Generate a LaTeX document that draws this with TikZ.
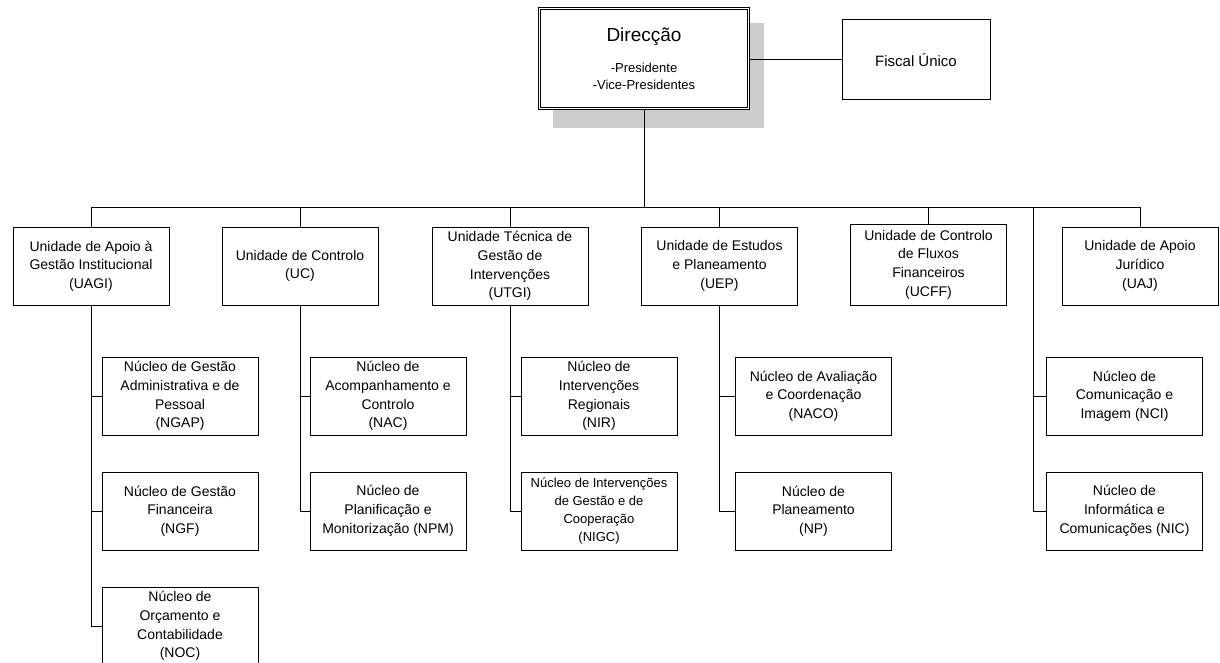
\documentclass[tikz,border=0pt]{standalone}
\usepackage{fontspec}
\setmainfont{Liberation Sans}
\begin{document}
\begin{tikzpicture}[x=1pt,y=-1pt,
  box/.style={draw,line width=1pt,align=center,inner sep=1pt,
    minimum width=156pt,minimum height=78pt,
    font=\fontsize{14}{18.7}\selectfont},
  conn/.style={line width=1pt}]
\useasboundingbox (0,0) rectangle (1220,663);
\clip (0,0) rectangle (1220,663);
\fill[white] (0,0) rectangle (1220,663);
% shadow of the top box
\fill[black!20] (553,23) rectangle (764,128);
\node[draw,double,double distance=1.6pt,line width=0.9pt,fill=white,
  minimum width=209pt,minimum height=100pt,align=center,inner sep=0pt,
  font=\fontsize{13}{17}\selectfont] (dir) at (644,58.5)
  {{\fontsize{19}{21}\selectfont Direcção}\\[14pt]-Presidente\\-Vice-Presidentes};
\node[draw,line width=1pt,minimum width=148pt,minimum height=80pt,
  font=\fontsize{15}{17}\selectfont] (fisc) at (916,60) {Fiscal Único};
\draw[conn] (dir.east |- fisc.west) -- (fisc.west);
% units
\node[box] (uagi) at (91,266) {Unidade de Apoio à\\Gestão Institucional\\(UAGI)};
\node[box] (uc) at (300,266) {Unidade de Controlo\\(UC)};
\node[box] (utgi) at (510,266) {Unidade Técnica de\\Gestão de\\Intervenções\\(UTGI)};
\node[box] (uep) at (719.5,266) {Unidade de Estudos\\e Planeamento\\(UEP)};
\node[box,minimum height=81pt] (ucff) at (928.5,264.5) {Unidade de Controlo\\de Fluxos\\Financeiros\\(UCFF)};
\node[box] (uaj) at (1140,266) {Unidade de Apoio\\Jurídico\\(UAJ)};
% sub units
\node[box] (ngap) at (180,396) {Núcleo de Gestão\\Administrativa e de\\Pessoal\\(NGAP)};
\node[box] (ngf) at (180,511) {Núcleo de Gestão\\Financeira\\(NGF)};
\node[box] (noc) at (180,626) {Núcleo de\\Orçamento e\\Contabilidade\\(NOC)};
\node[box] (nac) at (388,396) {Núcleo de\\Acompanhamento e\\Controlo\\(NAC)};
\node[box] (npm) at (388,511) {Núcleo de\\Planificação e\\Monitorização (NPM)};
\node[box] (nir) at (599,396) {Núcleo de\\Intervenções\\Regionais\\(NIR)};
\node[box,font=\fontsize{13}{18}\selectfont] (nigc) at (599,511) {Núcleo de Intervenções\\de Gestão e de\\Cooperação\\(NIGC)};
\node[box] (naco) at (813.5,396) {Núcleo de Avaliação\\e Coordenação\\(NACO)};
\node[box] (np) at (813.5,511) {Núcleo de\\Planeamento\\(NP)};
\node[box] (nci) at (1124.5,396) {Núcleo de\\Comunicação e\\Imagem (NCI)};
\node[box] (nic) at (1124.5,511) {Núcleo de\\Informática e\\Comunicações (NIC)};
% bus
\coordinate (busL) at (91,207);
\coordinate (busR) at (1140,207);
\coordinate (jc) at (1033,207);
\draw[conn] (dir.south) -- (dir.south |- busL);
\draw[conn] (busL) -- (busR);
\foreach \u in {uagi,uc,utgi,uep,ucff,uaj}
  \draw[conn] (\u.north) -- (\u.north |- busL);
% branches
\draw[conn] (uagi.south) |- (noc.west);
\draw[conn] (uagi.south |- ngap.west) -- (ngap.west);
\draw[conn] (uagi.south |- ngf.west) -- (ngf.west);
\draw[conn] (uc.south) |- (npm.west);
\draw[conn] (uc.south |- nac.west) -- (nac.west);
\draw[conn] (utgi.south) |- (nigc.west);
\draw[conn] (utgi.south |- nir.west) -- (nir.west);
\draw[conn] (uep.south) |- (np.west);
\draw[conn] (uep.south |- naco.west) -- (naco.west);
\draw[conn] (jc) |- (nic.west);
\draw[conn] (jc |- nci.west) -- (nci.west);
\end{tikzpicture}
\end{document}
